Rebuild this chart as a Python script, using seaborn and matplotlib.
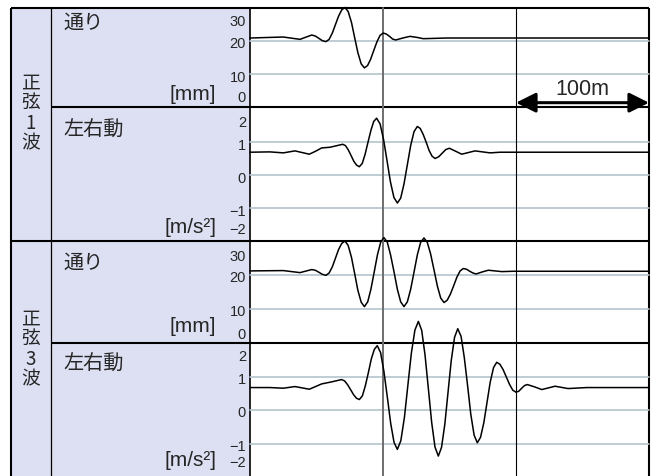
import matplotlib
matplotlib.use("Agg")
import matplotlib.pyplot as plt
import seaborn as sns
from matplotlib.transforms import offset_copy

# distance along the track [m] / values
dist_tori_1 = [0, 25, 37.6, 46.4, 49.1, 51.8, 54.4, 57.1, 59.5, 61.9, 64.3, 66.6, 69.0, 71.4,
               73.8, 76.3, 78.7, 81.1, 83.6, 86.0, 88.4, 90.7, 93.1, 95.5, 97.8, 100.2,
               102.5, 104.9, 107.2, 109.5, 114.9, 120.3, 125.3, 130.3, 148, 300]
tori_1 = [20.8, 21.1, 20.4, 21.7, 21.4, 20.7, 20.0, 19.7, 20.4, 22.3, 24.9, 27.4, 29.3, 30.0,
          28.8, 25.5, 20.9, 16.4, 13.0, 11.8, 12.5, 14.4, 17.1, 19.7, 21.6, 22.3,
          22.0, 21.3, 20.5, 20.2, 20.8, 21.3, 21.0, 20.6, 20.8, 20.8]

dist_acc_1 = [0, 15, 25, 33.8, 44.6, 49.3, 53.9, 60.1, 69.7, 71.8, 73.9, 76.0, 78.0, 80.1,
              82.2, 84.4, 86.5, 88.7, 90.9, 93.0, 95.2, 97.8, 100.4, 103.0, 105.6, 108.2,
              110.8, 113.3, 115.8, 118.3, 120.8, 123.3, 125.8, 128.0, 130.2, 132.5, 134.7,
              136.9, 139.1, 141.8, 144.5, 147.2, 149.9, 154.6, 159.2, 164.2, 169.2, 180.5,
              188, 300]
acc_1 = [0.69, 0.70, 0.67, 0.73, 0.63, 0.72, 0.82, 0.84, 0.93, 0.89, 0.76, 0.59, 0.42, 0.30,
         0.25, 0.35, 0.62, 0.99, 1.35, 1.62, 1.72, 1.55, 1.08, 0.44, -0.21, -0.68,
         -0.85, -0.70, -0.27, 0.31, 0.89, 1.31, 1.47, 1.41, 1.23, 0.99, 0.74,
         0.57, 0.50, 0.55, 0.66, 0.77, 0.81, 0.72, 0.63, 0.68, 0.73, 0.67,
         0.69, 0.69]

dist_tori_3 = [0, 25, 37.6, 46.4, 49.1, 51.8, 54.4, 57.1, 59.5, 61.9, 64.3, 66.6, 69.0, 71.4,
               73.8, 76.3, 78.7, 81.1, 83.6, 86.0, 88.5, 90.9, 93.4, 95.8, 98.3, 100.7,
               103.2, 105.7, 108.3, 110.8, 113.3, 115.8, 118.3, 120.8, 123.3, 125.8, 128.3,
               130.8, 133.3, 135.8, 138.4, 140.9, 143.4, 145.9, 148.3, 150.7, 153.2, 155.6,
               158.0, 160.4, 162.8, 165.2, 167.6, 170.0, 174.6, 179.2, 189.3, 198, 300]
tori_3 = [21.2, 21.3, 20.7, 21.6, 21.4, 20.8, 20.2, 19.9, 20.6, 22.4, 25.0, 27.5, 29.3, 30.0,
          28.7, 25.2, 20.4, 15.5, 12.0, 10.7, 12.1, 15.8, 20.9, 25.9, 29.7, 31.0,
          29.7, 25.9, 20.9, 15.8, 12.1, 10.7, 12.1, 15.8, 20.8, 25.9, 29.6,
          30.9, 29.6, 26.2, 21.4, 16.7, 13.2, 11.9, 12.6, 14.4, 16.9, 19.4,
          21.2, 21.9, 21.7, 21.1, 20.6, 20.3, 20.9, 21.4, 21.0, 21.1, 21.1]

dist_acc_3 = [0, 15, 25, 33.8, 44.6, 49.3, 53.9, 60.1, 68.9, 71.1, 73.3, 75.6, 77.8, 80.0,
              82.2, 84.5, 86.7, 89.0, 91.2, 93.5, 95.7, 98.2, 100.7, 103.3, 105.8, 108.3,
              110.8, 113.4, 116.1, 118.7, 121.3, 124.0, 126.6, 129.1, 131.6, 134.1, 136.6,
              139.1, 141.6, 144.0, 146.5, 148.9, 151.3, 153.8, 156.2, 158.7, 161.1, 163.6,
              166.0, 168.5, 170.9, 173.3, 175.8, 178.2, 180.6, 183.1, 185.5, 187.9, 190.3,
              192.8, 195.2, 197.6, 200.0, 202.1, 204.3, 206.4, 208.5, 214.0, 219.4, 224.4,
              229.4, 239.1, 253.2, 300]
acc_3 = [0.69, 0.69, 0.67, 0.72, 0.64, 0.72, 0.80, 0.85, 0.93, 0.89, 0.78, 0.63, 0.48, 0.37,
         0.33, 0.44, 0.74, 1.14, 1.55, 1.84, 1.95, 1.74, 1.17, 0.39, -0.39, -0.96,
         -1.17, -0.91, -0.21, 0.76, 1.72, 2.42, 2.68, 2.41, 1.67, 0.66, -0.36,
         -1.10, -1.37, -1.11, -0.41, 0.55, 1.50, 2.20, 2.46, 2.23, 1.60, 0.75,
         -0.11, -0.74, -0.97, -0.81, -0.37, 0.24, 0.85, 1.29, 1.45, 1.39, 1.23,
         1.00, 0.78, 0.61, 0.55, 0.58, 0.67, 0.75, 0.78, 0.71, 0.63, 0.68,
         0.73, 0.66, 0.69, 0.69]

group_labels = ["正弦1波", "正弦3波"]
row_names = ["通り", "左右動"]
units = ["[mm]", "[m/s²]"]
tori_ticks = [30, 20, 10, 0]
acc_ticks = [2, 1, 0, -1, -2]
tick_text = {30: "30", 20: "20", 10: "10", 0: "0", 2: "2", 1: "1", -1: "−1", -2: "−2"}

sns.set_theme(style="white")
plt.rcParams['font.family'] = ['Liberation Sans', 'Noto Sans CJK JP', 'DejaVu Sans']
JP = ['Noto Sans CJK JP', 'DejaVu Sans']

W, H = 656, 477
fig = plt.figure(figsize=(W / 100, H / 100), dpi=100)
fig.patch.set_facecolor('white')

# background layout drawn in pixel coordinates
bg = fig.add_axes([0, 0, 1, 1])
bg.set_xlim(0, W)
bg.set_ylim(H, 0)
bg.axis('off')
lav = '#dde0f2'
bg.add_patch(plt.Rectangle((11, 8.5), 239, H - 8.5, color=lav, lw=0))
k = dict(color='black', solid_capstyle='butt')
bg.plot([11, 649], [8.5, 8.5], lw=1.5, **k)
bg.plot([11, 11], [8.5, H], lw=1.5, **k)
bg.plot([649, 649], [8.5, H], lw=1.5, **k)
bg.plot([51, 51], [8.5, H], lw=0.9, **k)
bg.plot([250, 250], [8.5, H], lw=1.2, **k)
bg.plot([51, 649], [108, 108], lw=1.5, **k)
bg.plot([11, 649], [242, 242], lw=1.5, **k)
bg.plot([51, 649], [344, 344], lw=1.5, **k)

# panels: (top px, bottom px, ylim, data, ticks, label shift in px)
panels = [
    (8.5, 108, (0, 30), dist_tori_1, tori_1, tori_ticks, [14, 2, 3, -10]),
    (108, 242, (-2.0, 2.06), dist_acc_1, acc_1, acc_ticks, [13, 3, 3, 3, -12]),
    (242, 344, (0, 30), dist_tori_3, tori_3, tori_ticks, [15, 2, 2, -9]),
    (344, 477, (-1.97, 2.03), dist_acc_3, acc_3, acc_ticks, [12, 2, 2, 2, -15]),
]

axes = []
for top, bot, ylim, xs, ys, ticks, shifts in panels:
    ax = fig.add_axes([250 / W, (H - bot) / H, 399 / W, (bot - top) / H])
    ax.set_facecolor('none')
    for s in ax.spines.values():
        s.set_visible(False)
    ax.set_xlim(0, 300)
    ax.set_ylim(*ylim)
    ax.set_xticks([])
    ax.set_yticks([])
    for t in ticks[1:-1]:
        ax.axhline(t, color='#b3c3cc', lw=1.2, zorder=1)
    ax.axvline(100, color='#6e6e6e', lw=1.4, zorder=2)
    ax.axvline(200, color='black', lw=0.8, zorder=2)
    sns.lineplot(x=xs, y=ys, ax=ax, color='black', linewidth=1.1,
                 estimator=None, sort=False, zorder=3)
    for ln in ax.lines:
        ln.set_clip_on(False)
    for t, s in zip(ticks, shifts):
        tr = offset_copy(ax.get_yaxis_transform(), fig=fig, x=-4, y=-s, units='dots')
        ax.text(0, t, tick_text[t], transform=tr, ha='right', va='center', fontsize=10.5)
    axes.append(ax)

# 100 m scale arrow
axes[0].annotate('', xy=(300, 1.3), xytext=(200, 1.3),
                 arrowprops=dict(arrowstyle='<|-|>,head_length=0.6,head_width=0.3',
                                 mutation_scale=20, color='black', lw=2.2,
                                 shrinkA=0, shrinkB=0), annotation_clip=False)
axes[0].text(250, 5.5, '100m', ha='center', va='center', fontsize=15.5)

# row labels
name_y = [23, 130, 263, 364]
unit_y = [95, 228, 327, 461]
for i in range(4):
    bg.text(63, name_y[i], row_names[i % 2], family=JP, fontsize=14.5,
            ha='left', va='center')
    bg.text(216, unit_y[i], units[i % 2], fontsize=15, ha='right', va='center')

# group labels, written vertically
for g, cy in zip(group_labels, [113, 349]):
    bg.text(31, cy, "\n".join(g), family=JP, fontsize=13.5, linespacing=0.95,
            ha='center', va='center', multialignment='center')

fig.savefig('out.png', dpi=100)
